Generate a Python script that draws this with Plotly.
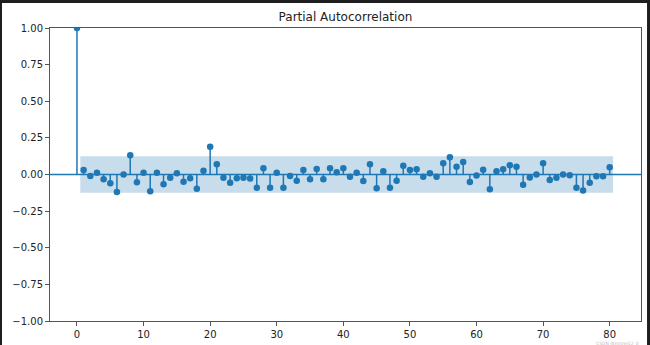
import plotly.graph_objects as go

lags = list(range(0, 81))
pacf_values = [
    1.0, 0.031, -0.010, 0.012, -0.033, -0.060, -0.120, 0.000, 0.131, -0.053,
    0.012, -0.115, 0.012, -0.067, -0.022, 0.008, -0.049, -0.026, -0.097, 0.026,
    0.190, 0.070, -0.022, -0.056, -0.026, -0.022, -0.028, -0.090, 0.042, -0.090,
    0.012, -0.090, -0.010, -0.042, 0.031, -0.033, 0.037, -0.033, 0.042, 0.015,
    0.042, -0.015, 0.012, -0.044, 0.070, -0.094, 0.022, -0.090, -0.042, 0.060,
    0.031, 0.035, -0.015, 0.008, -0.015, 0.076, 0.117, 0.053, 0.085, -0.051,
    -0.006, 0.033, -0.101, 0.022, 0.035, 0.063, 0.053, -0.070, -0.020, 0.000,
    0.076, -0.038, -0.022, 0.000, -0.005, -0.090, -0.110, -0.056, -0.012, -0.012,
    0.049,
]
conf_half_width = 0.125
x_tick_vals = [0, 10, 20, 30, 40, 50, 60, 70, 80]
y_tick_vals = [-1.0, -0.75, -0.5, -0.25, 0.0, 0.25, 0.5, 0.75, 1.0]

C0 = "#1f77b4"

fig = go.Figure()

# confidence band (from lag 0.5 to last lag + 0.5)
bx0, bx1 = lags[1] - 0.5, lags[-1] + 0.5
fig.add_trace(go.Scatter(
    x=[bx0, bx1, bx1, bx0, bx0],
    y=[conf_half_width, conf_half_width, -conf_half_width, -conf_half_width, conf_half_width],
    fill="toself", fillcolor="rgba(31,119,180,0.25)",
    line=dict(width=0), mode="lines", hoverinfo="skip", showlegend=False,
))

# stems
sx, sy = [], []
for l, v in zip(lags, pacf_values):
    sx += [l, l, None]
    sy += [0, v, None]
fig.add_trace(go.Scatter(x=sx, y=sy, mode="lines", line=dict(color=C0, width=1.5),
                         hoverinfo="skip", showlegend=False))

# markers
fig.add_trace(go.Scatter(x=lags, y=pacf_values, mode="markers",
                         marker=dict(color=C0, size=6.5), showlegend=False))

shapes = [
    dict(type="line", xref="paper", yref="y", x0=0, x1=1, y0=0, y1=0,
         line=dict(color=C0, width=1.5), layer="above"),
    # dark screenshot border
    dict(type="rect", xref="paper", yref="paper", x0=-0.09, x1=-0.0812, y0=-0.2, y1=1.2,
         fillcolor="#1e1e1e", line=dict(width=0)),
    dict(type="rect", xref="paper", yref="paper", x0=1.0102, x1=1.02, y0=-0.2, y1=1.2,
         fillcolor="#1e1e1e", line=dict(width=0)),
    dict(type="rect", xref="paper", yref="paper", x0=-0.1, x1=1.1, y0=1.0853, y1=1.1,
         fillcolor="#1e1e1e", line=dict(width=0)),
]

fig.update_layout(
    width=650, height=345,
    margin=dict(l=50, r=9, t=28, b=24, autoexpand=False),
    paper_bgcolor="white", plot_bgcolor="white",
    font=dict(family="DejaVu Sans", size=10, color="#222"),
    title=dict(text="Partial Autocorrelation", x=0.5315, xanchor="center",
               y=1 - 17 / 345, yanchor="middle", font=dict(size=12, color="#222")),
    shapes=shapes,
    annotations=[dict(text="CSDN @mnrel12_0", xref="paper", yref="paper",
                      x=1.0, y=-0.062, xanchor="right", yanchor="top", showarrow=False,
                      font=dict(size=4.5, color="#bbb"))],
    xaxis=dict(range=[-4.05, 84.7], tickvals=x_tick_vals, showgrid=False, zeroline=False,
               showline=True, linecolor="#555", linewidth=1, mirror=True, automargin=False,
               ticks="outside", ticklen=4, tickcolor="#555"),
    yaxis=dict(range=[-1, 1], tickvals=y_tick_vals, tickformat=".2f", showgrid=False,
               zeroline=False, showline=True, linecolor="#555", linewidth=1, mirror=True,
               automargin=False, ticks="outside", ticklen=4, tickcolor="#555"),
)

fig.write_html("out.html")
